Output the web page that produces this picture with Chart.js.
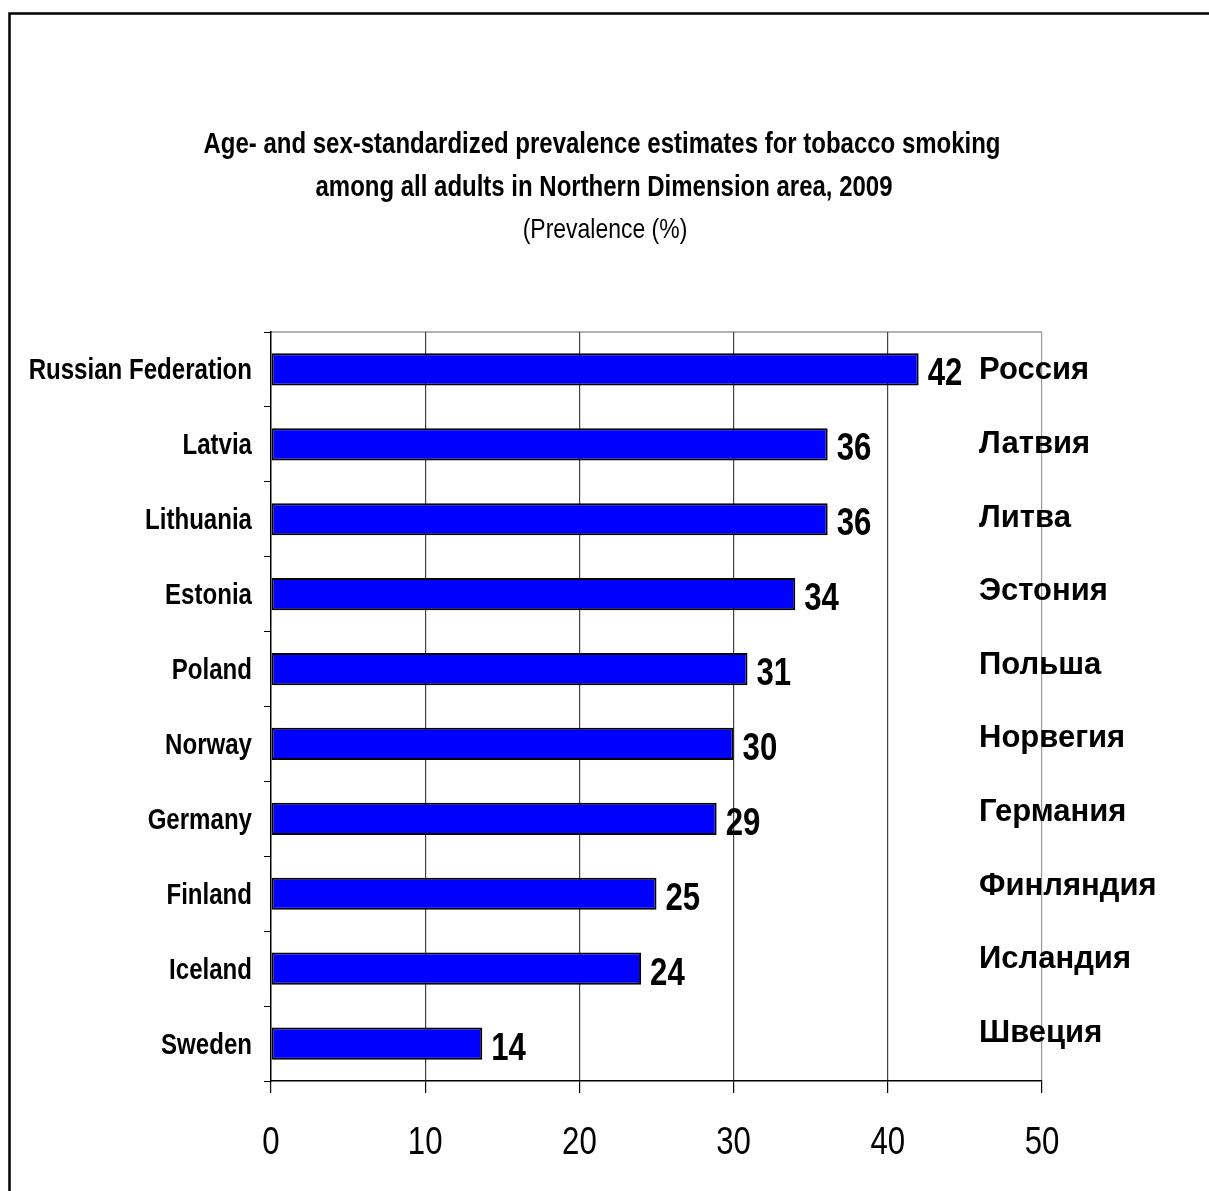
<!DOCTYPE html>
<html>
<head>
<meta charset="utf-8">
<script src="https://cdn.jsdelivr.net/npm/chart.js@4/dist/chart.umd.min.js"></script>
<style>
  html, body { margin: 0; padding: 0; background: #fff; }
  #wrap { width: 1209px; height: 1191px; position: relative; }
</style>
</head>
<body>
<div id="wrap"><canvas id="chart"></canvas></div>
<script>
const countries = ['Russian Federation', 'Latvia', 'Lithuania', 'Estonia', 'Poland',
  'Norway', 'Germany', 'Finland', 'Iceland', 'Sweden'];
const countriesRu = ['Россия', 'Латвия', 'Литва', 'Эстония', 'Польша',
  'Норвегия', 'Германия', 'Финляндия', 'Исландия', 'Швеция'];
const prevalence = [42, 36.1, 36.1, 34, 30.9, 30, 28.9, 25, 24, 13.7];
const xTicks = [0, 10, 20, 30, 40, 50];
const titleLines = ['Age- and sex-standardized prevalence estimates for tobacco smoking',
  'among all adults in Northern Dimension area, 2009'];
const subtitle = '(Prevalence (%)';

const FONT = "'Liberation Sans', Arial, sans-serif";
const NARROW = 0.82; // squeeze Arial-metric text to look like Arial Narrow

// draw text squeezed horizontally around its anchor
function narrowText(ctx, text, x, y, font, align, sx) {
  ctx.save();
  ctx.font = font;
  ctx.textAlign = align;
  ctx.textBaseline = 'alphabetic';
  ctx.translate(x, y);
  ctx.scale(sx, 1);
  ctx.fillText(text, 0, 0);
  ctx.restore();
}

const framePlugin = {
  id: 'frame',
  beforeDraw(chart) {
    const ctx = chart.ctx;
    ctx.save();
    ctx.strokeStyle = '#000';
    ctx.lineWidth = 2.5;
    ctx.beginPath();
    ctx.moveTo(9.5, 1200);
    ctx.lineTo(9.5, 13.5);
    ctx.lineTo(1220, 13.5);
    ctx.stroke();
    const a = chart.chartArea;
    ctx.strokeStyle = '#999';
    ctx.lineWidth = 1.5;
    ctx.beginPath();
    ctx.moveTo(a.left, a.top);
    ctx.lineTo(a.right, a.top);
    ctx.stroke();
    ctx.restore();

    // titles
    ctx.save();
    ctx.font = 'bold 29px ' + FONT;
    const sx = 797 / ctx.measureText(titleLines[0]).width;
    ctx.restore();
    ctx.fillStyle = '#000';
    narrowText(ctx, titleLines[0], 602, 153, 'bold 29px ' + FONT, 'center', sx);
    narrowText(ctx, titleLines[1], 604, 196, 'bold 29px ' + FONT, 'center', sx);
    narrowText(ctx, subtitle, 605, 238, '28px ' + FONT, 'center', NARROW);
  }
};

const labelPlugin = {
  id: 'barLabels',
  afterDraw(chart) {
    const ctx = chart.ctx;
    const meta = chart.getDatasetMeta(0);
    const xScale = chart.scales.x;
    const yScale = chart.scales.y;
    ctx.save();
    ctx.fillStyle = '#000';
    meta.data.forEach((bar, i) => {
      const yc = yScale.getPixelForValue(i);
      narrowText(ctx, String(Math.round(prevalence[i])), bar.x + 9, bar.y + 16,
        'bold 38px ' + FONT, 'left', NARROW);
      narrowText(ctx, countries[i], yScale.right - 19, yc + 10,
        'bold 29px ' + FONT, 'right', 0.83);
      ctx.font = 'bold 31px ' + FONT;
      ctx.textAlign = 'left';
      ctx.textBaseline = 'alphabetic';
      ctx.fillText(countriesRu[i], 979, yc + 10 - i * 1.3);
    });
    xTicks.forEach(v => {
      narrowText(ctx, String(v), xScale.getPixelForValue(v), 1154,
        '38px ' + FONT, 'center', NARROW);
    });
    ctx.restore();
  }
};

new Chart(document.getElementById('chart'), {
  type: 'bar',
  data: {
    labels: countries,
    datasets: [{
      data: prevalence,
      backgroundColor: '#0000ff',
      borderColor: '#000',
      borderWidth: 2,
      borderSkipped: false,
      barPercentage: 0.43,
      categoryPercentage: 1
    }]
  },
  options: {
    indexAxis: 'y',
    responsive: true,
    maintainAspectRatio: false,
    animation: false,
    layout: { padding: { left: 0, right: 167, top: 332, bottom: 0 } },
    plugins: {
      legend: { display: false },
      tooltip: { enabled: false },
      title: { display: false }
    },
    scales: {
      x: {
        min: 0,
        max: 50,
        afterFit(scale) { scale.height = 110; },
        afterBuildTicks(scale) { scale.ticks = xTicks.map(v => ({ value: v })); },
        border: { color: '#000', width: 1.5 },
        grid: {
          color: ctx => ctx.tick && ctx.tick.value === 0 ? 'rgba(0,0,0,0)' :
            (ctx.tick && ctx.tick.value === 50 ? '#999' : '#444'),
          tickColor: '#000',
          tickLength: 12,
          lineWidth: 1.2
        },
        ticks: { display: false }
      },
      y: {
        afterFit(scale) { scale.width = 271; },
        border: { color: '#000', width: 1.5 },
        grid: {
          offset: true,
          drawOnChartArea: false,
          tickColor: '#000',
          tickLength: 7
        },
        ticks: { display: false }
      }
    }
  },
  plugins: [framePlugin, labelPlugin]
});
</script>
</body>
</html>
